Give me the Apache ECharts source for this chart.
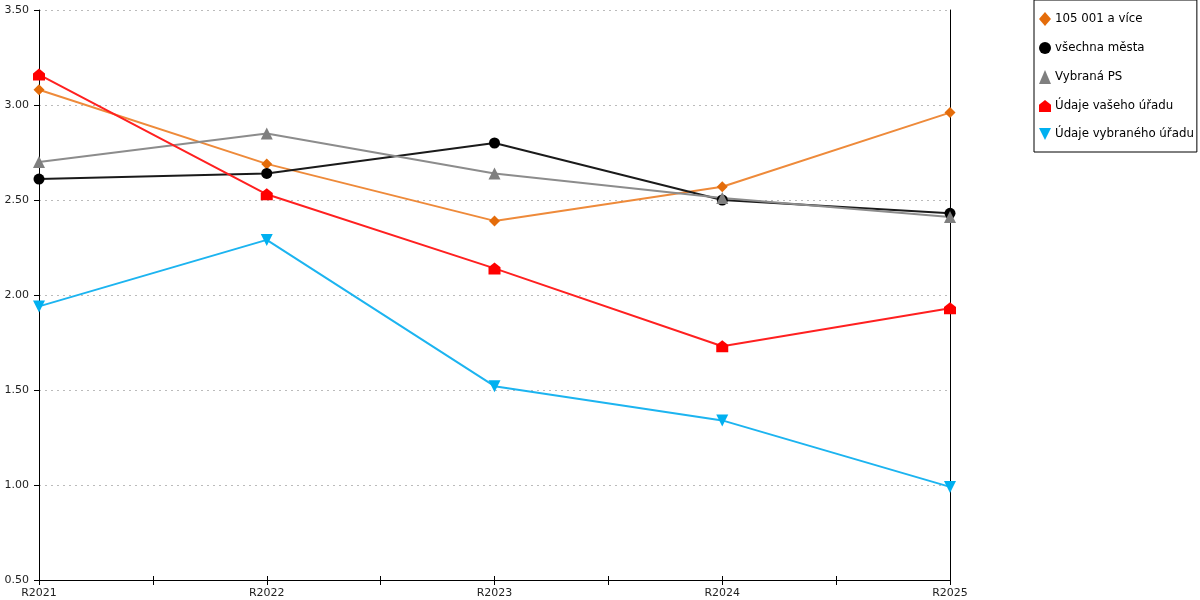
<!DOCTYPE html>
<html>
<head>
<meta charset="utf-8">
<script src="https://cdn.jsdelivr.net/npm/echarts@6/dist/echarts.min.js"></script>
<style>
  html, body { margin: 0; padding: 0; background: #fff; }
  #chart { width: 1200px; height: 600px; }
</style>
</head>
<body>
<div id="chart"></div>
<script>
const categories = ['R2021', 'R2022', 'R2023', 'R2024', 'R2025'];
const names = ['105 001 a více', 'všechna města', 'Vybraná PS', 'Údaje vašeho úřadu', 'Údaje vybraného úřadu'];
const mesta105 = [3.08, 2.69, 2.39, 2.57, 2.96];
const vsechnaMesta = [2.61, 2.64, 2.80, 2.50, 2.43];
const vybranaPS = [2.70, 2.85, 2.64, 2.51, 2.41];
const vasUrad = [3.16, 2.53, 2.14, 1.73, 1.93];
const vybranyUrad = [1.94, 2.29, 1.52, 1.34, 0.99];

const house = 'path://M0,4 L5,0 L10,4 L10,10 L0,10 Z';
const down = 'path://M0,0 L10,0 L5,10 Z';
const font = 'DejaVu Sans';

function pts(arr) {
    return arr.map(function (v, i) { return [i, v]; });
}

function line(name, data, lineColor, markColor, symbol, size) {
    return {
        name: name,
        type: 'line',
        data: pts(data),
        symbol: symbol,
        symbolSize: size,
        showAllSymbol: true,
        lineStyle: { color: lineColor, width: 2 },
        itemStyle: { color: markColor },
        emphasis: { disabled: true },
        animation: false
    };
}

let chart = echarts.init(document.getElementById('chart'));
option = {
    textStyle: { fontFamily: font },
    grid: { left: 39, right: 250, top: 10, bottom: 20 },
    legend: {
        orient: 'vertical',
        left: 1034,
        top: 0,
        padding: [12, 3, 12, 5],
        itemWidth: 12,
        itemHeight: 14,
        itemGap: 16,
        borderColor: '#000',
        borderWidth: 1,
        borderRadius: 0,
        textStyle: { fontFamily: font, fontSize: 11.8, color: '#000', padding: [0, 0, 0, -1] },
        data: names.map(function (n, i) {
            return { name: n, icon: ['diamond', 'circle', 'triangle', house, down][i] };
        })
    },
    xAxis: [
        {
            type: 'value',
            min: 0,
            max: 4,
            interval: 0.5,
            axisLine: { show: true, onZero: false, lineStyle: { color: '#000' } },
            axisTick: { show: true, length: 5, lineStyle: { color: '#000' } },
            splitLine: { show: false },
            axisLabel: {
                fontFamily: font,
                fontSize: 11,
                color: '#222',
                margin: 8,
                formatter: function (v) { return Number.isInteger(v) ? categories[v] : ''; }
            }
        },
        {
            type: 'value',
            position: 'bottom',
            min: 0,
            max: 4,
            interval: 0.5,
            axisLine: { show: false, onZero: false },
            axisTick: { show: true, inside: true, length: 4, lineStyle: { color: '#000' } },
            splitLine: { show: false },
            axisLabel: { show: false }
        }
    ],
    yAxis: [
        {
            type: 'value',
            min: 0.5,
            max: 3.5,
            interval: 0.5,
            axisLine: { show: true, onZero: false, lineStyle: { color: '#000' } },
            axisTick: { show: true, length: 5, lineStyle: { color: '#000' } },
            axisLabel: {
                fontFamily: font,
                fontSize: 11,
                color: '#222',
                margin: 10,
                formatter: function (v) { return v.toFixed(2); }
            },
            splitLine: { show: true, lineStyle: { color: '#bbb', type: [2, 4] } }
        },
        {
            type: 'value',
            position: 'right',
            min: 0.5,
            max: 3.5,
            interval: 0.5,
            axisLine: { show: true, onZero: false, lineStyle: { color: '#000' } },
            axisTick: { show: false },
            axisLabel: { show: false },
            splitLine: { show: false }
        }
    ],
    series: [
        line(names[0], mesta105, '#EE8A3A', '#E46C0A', 'diamond', 11),
        line(names[1], vsechnaMesta, '#1a1a1a', '#000', 'circle', 11),
        line(names[2], vybranaPS, '#8c8c8c', '#7f7f7f', 'triangle', 12),
        line(names[3], vasUrad, '#FF2020', '#FF0000', house, 12),
        line(names[4], vybranyUrad, '#1CB4F0', '#00B0F0', down, 12)
    ]
};
chart.setOption(option);
</script>
</body>
</html>
